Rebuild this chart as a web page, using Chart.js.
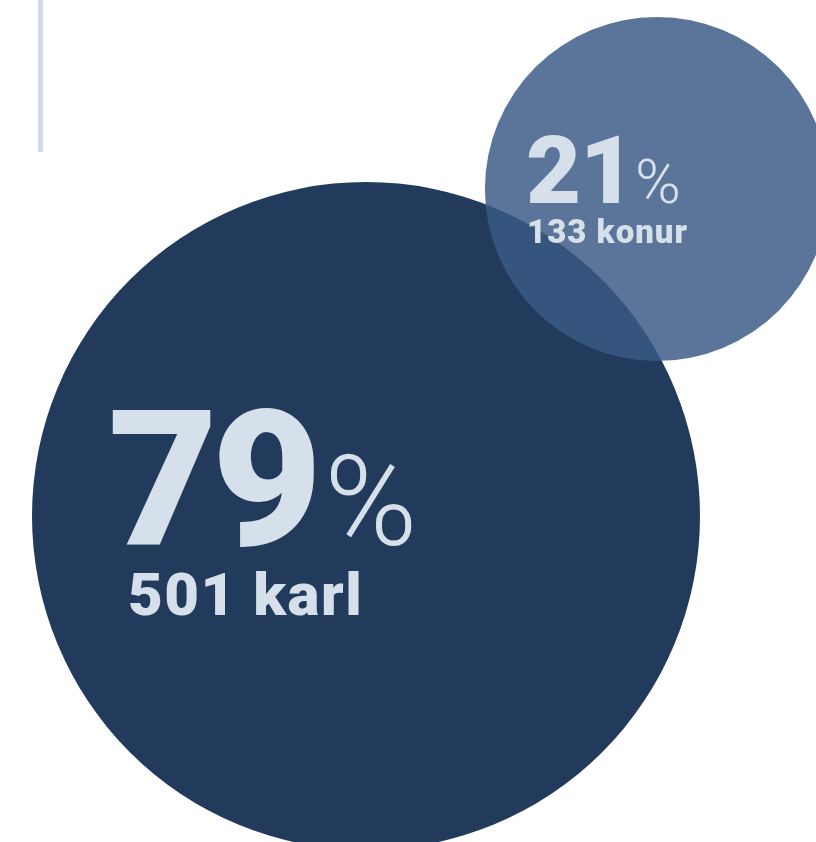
<!DOCTYPE html>
<html>
<head>
<meta charset="utf-8">
<script src="https://cdn.jsdelivr.net/npm/chart.js@4.4.1/dist/chart.umd.min.js"></script>
<style>
  html, body { margin: 0; padding: 0; background: #fff; }
  #wrap { width: 816px; height: 842px; position: relative; }
</style>
</head>
<body>
<div id="wrap"><canvas id="chart"></canvas></div>
<script>
// Kyn svarenda
const labels = ['karl', 'konur'];
const counts = [501, 133];
const percents = [79, 21];

const colors = ['#223a5c', 'rgba(58,90,133,0.835)'];
const textColor = '#d6e0eb';
const font = 'Roboto';

// staðsetning miðju (pixlar) og kvarði radíusar
const centers = [{ x: 366, y: 516 }, { x: 657, y: 189 }];
const radiusScale = 334 / Math.sqrt(501);

/* Texti inni í bólunum + lóðrétt lína efst til vinstri */
const labelPlugin = {
  id: 'bubbleLabels',
  afterDatasetsDraw(chart) {
    const ctx = chart.ctx;
    const els = chart.getDatasetMeta(0).data;
    ctx.save();
    ctx.fillStyle = textColor;
    ctx.textAlign = 'left';
    ctx.textBaseline = 'alphabetic';

    // 79% / 501 karl
    const big = els[0];
    ctx.font = `900 190px ${font}`;
    ctx.letterSpacing = '-6px';
    ctx.fillText(String(percents[0]), big.x - 258, big.y + 29);
    let w = ctx.measureText(String(percents[0])).width;
    ctx.letterSpacing = '0px';
    ctx.font = `300 126px ${font}`;
    ctx.fillText('%', big.x - 258 + w + 8, big.y + 29);
    ctx.font = `900 60px ${font}`;
    ctx.letterSpacing = '1.5px';
    ctx.fillText(counts[0] + ' ' + labels[0], big.x - 238, big.y + 99);

    // 21% / 133 konur
    const small = els[1];
    ctx.font = `900 95px ${font}`;
    ctx.letterSpacing = '-1px';
    ctx.fillText(String(percents[1]), small.x - 131, small.y + 14);
    w = ctx.measureText(String(percents[1])).width;
    ctx.letterSpacing = '0px';
    ctx.font = `300 62px ${font}`;
    ctx.fillText('%', small.x - 131 + w + 1, small.y + 14);
    ctx.font = `900 33px ${font}`;
    ctx.letterSpacing = '1px';
    ctx.fillText(counts[1] + ' ' + labels[1], small.x - 130, small.y + 54);

    ctx.restore();
  },
  beforeDatasetsDraw(chart) {
    const ctx = chart.ctx;
    ctx.save();
    ctx.fillStyle = '#d3dbe5';
    ctx.fillRect(38, 0, 5, 152);
    ctx.restore();
  },
};

new Chart(document.getElementById('chart'), {
  type: 'bubble',
  data: {
    labels,
    datasets: [{
      data: counts.map((c, i) => ({ x: centers[i].x, y: centers[i].y, r: Math.sqrt(c) * radiusScale })),
      backgroundColor: colors,
      borderWidth: 0,
      hoverBorderWidth: 0,
      hoverRadius: 0,
      clip: false,
    }],
  },
  options: {
    responsive: true, maintainAspectRatio: false,
    animation: false,
    events: [],
    layout: { padding: 0, autoPadding: false },
    plugins: { legend: { display: false }, tooltip: { enabled: false } },
    scales: {
      x: { type: 'linear', min: 0, max: 816, display: false },
      y: { type: 'linear', min: 0, max: 842, reverse: true, display: false },
    },
  },
  plugins: [labelPlugin],
});
</script>
</body>
</html>
